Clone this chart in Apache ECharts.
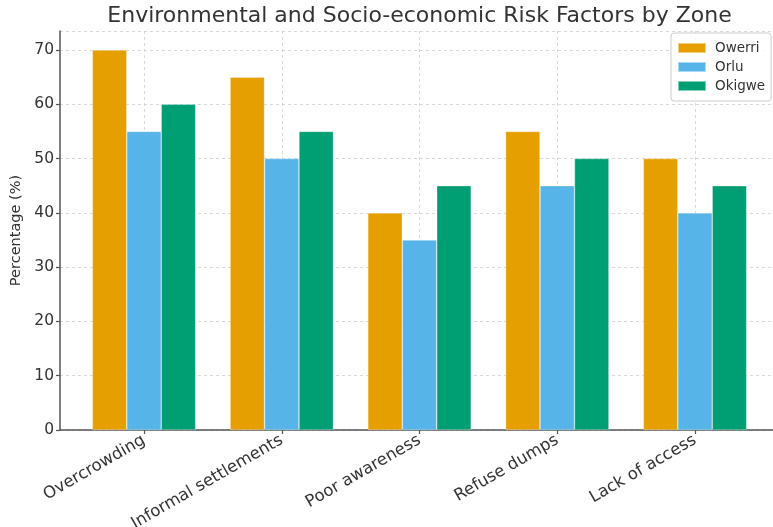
<!DOCTYPE html>
<html>
<head>
<meta charset="utf-8">
<script src="https://cdn.jsdelivr.net/npm/echarts@6/dist/echarts.min.js"></script>
<style>
  html, body { margin: 0; padding: 0; background: #fff; }
  #chart { width: 773px; height: 527px; }
</style>
</head>
<body>
<div id="chart"></div>
<script>
const categories = ['Overcrowding', 'Informal settlements', 'Poor awareness', 'Refuse dumps', 'Lack of access'];
const owerri = [70, 65, 40, 55, 50];
const orlu = [55, 50, 35, 45, 40];
const okigwe = [60, 55, 45, 50, 45];
const yTicks = [0, 10, 20, 30, 40, 50, 60, 70];

const colors = {
  owerri: '#E69F00',
  orlu: '#56B4E9',
  okigwe: '#009E73',
  text: '#333333',
  axis: '#555555',
  grid: '#d0d0d0',
};
const font = 'DejaVu Sans';

const chart = echarts.init(document.getElementById('chart'));

function barSeries(name, data, color) {
  return {
    name,
    type: 'bar',
    xAxisIndex: 1,
    yAxisIndex: 1,
    data,
    clip: false,
    barGap: '0%',
    barCategoryGap: '25%',
    itemStyle: { color, borderColor: 'rgba(255,255,255,0.5)', borderWidth: 0.6 },
  };
}

chart.setOption({
  backgroundColor: '#fff',
  animation: false,
  textStyle: { fontFamily: font },
  title: {
    text: 'Environmental and Socio-economic Risk Factors by Zone',
    left: 419.5,
    textAlign: 'center',
    top: 5,
    padding: 0,
    textStyle: { fontFamily: font, fontSize: 22, fontWeight: 'normal', color: colors.text },
  },
  legend: {
    data: ['Owerri', 'Orlu', 'Okigwe'],
    orient: 'vertical',
    left: 671,
    top: 33,
    padding: [7, 6, 7, 6],
    itemWidth: 28,
    itemHeight: 10,
    itemGap: 3,
    icon: 'rect',
    backgroundColor: 'rgba(255,255,255,0.8)',
    borderColor: '#cccccc',
    borderWidth: 1,
    borderRadius: 3,
    textStyle: { fontFamily: font, fontSize: 13.5, lineHeight: 16, color: colors.text, padding: [0, 0, 0, 4] },
  },
  grid: [
    { left: 60, right: -6, top: 31, bottom: 97, outerBoundsMode: 'none' },
    { left: 144, right: 78, top: 31, bottom: 97, outerBoundsMode: 'none' },
  ],
  xAxis: [
    {
      type: 'value',
      gridIndex: 0,
      min: 0,
      max: 1,
      axisLine: { show: true, lineStyle: { color: colors.axis, width: 1.5 } },
      axisTick: { show: false },
      axisLabel: { show: false },
      splitLine: { show: false },
    },
    {
      type: 'category',
      gridIndex: 1,
      data: categories,
      boundaryGap: false,
      axisLine: { show: false },
      axisTick: { show: true, length: 4, lineStyle: { color: colors.axis, width: 1.2 } },
      axisLabel: { rotate: 30, margin: 9, fontSize: 16.5, color: colors.text, fontFamily: font },
      splitLine: { show: true, lineStyle: { color: colors.grid, type: [3, 3], width: 0.8 } },
    },
  ],
  yAxis: [
    {
      type: 'value',
      gridIndex: 0,
      min: 0,
      max: 73.5,
      interval: 10,
      name: 'Percentage (%)',
      nameLocation: 'middle',
      nameGap: 35,
      nameTextStyle: { fontSize: 14.5, color: colors.text, fontFamily: font },
      axisLine: { show: true, lineStyle: { color: colors.axis, width: 1.5 } },
      axisTick: { show: true, length: 4, lineStyle: { color: colors.axis, width: 1.2 } },
      axisLabel: {
        margin: 6,
        fontSize: 15.5,
        color: colors.text,
        fontFamily: font,
        showMaxLabel: false,
        formatter: (v) => (yTicks.includes(v) ? String(v) : ''),
      },
      splitLine: { show: true, lineStyle: { color: colors.grid, type: [3, 3], width: 0.8 } },
    },
    {
      type: 'value',
      gridIndex: 1,
      min: 0,
      max: 73.5,
      show: false,
      splitLine: { show: false },
    },
  ],
  series: [
    barSeries('Owerri', owerri, colors.owerri),
    barSeries('Orlu', orlu, colors.orlu),
    barSeries('Okigwe', okigwe, colors.okigwe),
  ],
});
</script>
</body>
</html>
